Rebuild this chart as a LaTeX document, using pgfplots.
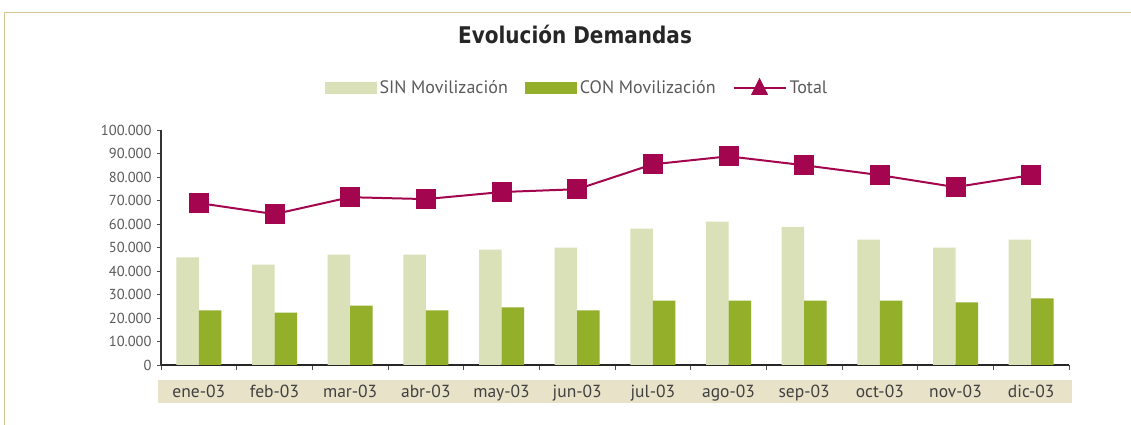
\documentclass[border=0pt]{standalone}
\usepackage{fontspec}
\setmainfont{PT Sans}
\newfontfamily\titlefont{DejaVu Sans}[FakeStretch=0.87]
\usepackage{pgfplots}
\pgfplotsset{compat=1.18}

\definecolor{sincol}{RGB}{218,225,184}
\definecolor{concol}{RGB}{148,175,42}
\definecolor{totcol}{RGB}{163,6,78}
\definecolor{bandcol}{RGB}{232,226,201}
\definecolor{framecol}{RGB}{215,197,143}
\definecolor{txtgray}{RGB}{90,90,90}

\begin{document}
\begin{tikzpicture}[x=1pt,y=1pt]
\path[use as bounding box] (0,0) rectangle (1131,425);
\fill[white] (0,0) rectangle (1131,425);
% frame
\draw[framecol, line width=1pt] (4.5,0) -- (4.5,412.5) -- (1131,412.5);
% title
\node[font=\titlefont\bfseries\fontsize{23}{27}\selectfont, text=black!85] at (575,391) {Evolución Demandas};
% band behind month labels
\fill[bandcol] (158,22) rectangle (1072,45);

\begin{axis}[
    at={(161pt,60pt)}, anchor=south west,
    scale only axis,
    width=908pt, height=235pt,
    xmin=-0.5, xmax=11.5,
    ymin=0, ymax=100000,
    axis x line*=bottom, axis y line*=left,
    x axis line style={-, black!85, line width=2pt},
    y axis line style={-, black!80, line width=1.2pt},
    tick align=outside,
    major tick length=4pt,
    minor tick length=5pt,
    ytick={0,10000,20000,30000,40000,50000,60000,70000,80000,90000,100000},
    scaled y ticks=false,
    /pgf/number format/assume math mode=true,
    yticklabel style={/pgf/number format/fixed, /pgf/number format/precision=0,
        /pgf/number format/1000 sep={.}, font=\fontsize{14.5}{16}\selectfont,
        text=txtgray, xshift=-2pt},
    y tick style={black!70, line width=0.8pt},
    xtick={0,...,11},
    xticklabels={ene-03,feb-03,mar-03,abr-03,may-03,jun-03,jul-03,ago-03,sep-03,oct-03,nov-03,dic-03},
    major x tick style={draw=none},
    minor xtick={-0.5,0.5,...,11.5},
    minor x tick style={black!70, line width=0.8pt},
    xticklabel style={font=\fontsize{17.5}{19}\selectfont, text=black!75, yshift=-13pt},
    legend style={at={(0.458,1.179)}, anchor=center, draw=none, fill=none,
        legend columns=3, font=\fontsize{18}{20}\selectfont, text=txtgray,
        /tikz/every odd column/.append style={column sep=1pt},
        /tikz/every even column/.append style={column sep=15pt}},
    legend cell align=left,
]

% SIN Movilización
\addplot[ybar, bar width=22.5pt, bar shift=-11.25pt, fill=sincol, draw=none,
    legend image code/.code={\fill[sincol] (0pt,-6pt) rectangle (52pt,6pt);}]
coordinates {(0,45800) (1,42700) (2,47000) (3,47000) (4,49100) (5,49900)
             (6,58000) (7,61000) (8,58800) (9,53300) (10,49900) (11,53300)};
\addlegendentry{SIN Movilización}

% CON Movilización
\addplot[ybar, bar width=22.5pt, bar shift=11.25pt, fill=concol, draw=none,
    legend image code/.code={\fill[concol] (0pt,-6pt) rectangle (52pt,6pt);}]
coordinates {(0,23200) (1,22300) (2,25300) (3,23200) (4,24500) (5,23200)
             (6,27400) (7,27400) (8,27400) (9,27400) (10,26600) (11,28300)};
\addlegendentry{CON Movilización}

% Total
\addplot[totcol, line width=2pt, mark=square*, mark size=9.5pt,
    mark options={fill=totcol, draw=totcol, line width=0pt},
    legend image code/.code={
        \draw[totcol, line width=2pt] (0pt,0pt) -- (52pt,0pt);
        \fill[totcol] (19pt,-6pt) -- (33pt,-6pt) -- (26pt,8pt) -- cycle;}]
coordinates {(0,68900) (1,64200) (2,71400) (3,70600) (4,73600) (5,74800)
             (6,85400) (7,88800) (8,85000) (9,80800) (10,75700) (11,80800)};
\addlegendentry{Total}

\end{axis}
\end{tikzpicture}
\end{document}
